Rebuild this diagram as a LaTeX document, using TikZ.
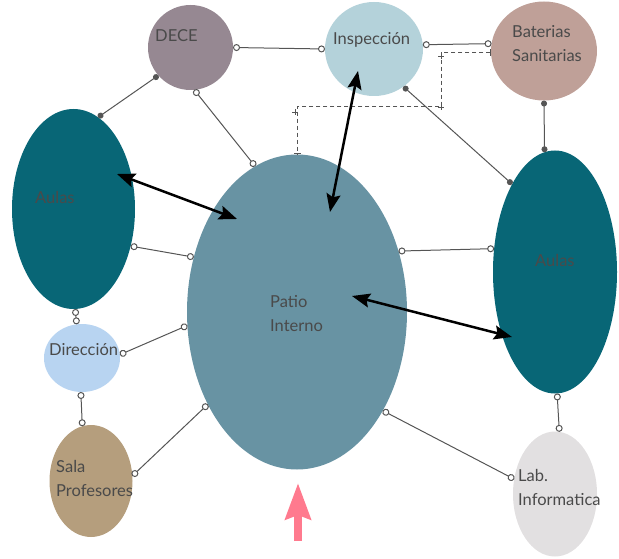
\documentclass[tikz,border=0pt]{standalone}
\usepackage{fontspec}
\setmainfont{Lato}
\usetikzlibrary{arrows.meta,shapes.geometric}

\definecolor{cDece}{HTML}{968892}
\definecolor{cInsp}{HTML}{B4D2DA}
\definecolor{cBat}{HTML}{BFA098}
\definecolor{cAulas}{HTML}{086676}
\definecolor{cPatio}{HTML}{6893A3}
\definecolor{cDir}{HTML}{B8D4F1}
\definecolor{cSala}{HTML}{B59E7D}
\definecolor{cLab}{HTML}{E2E0E1}
\definecolor{cLine}{HTML}{555555}
\definecolor{cTxt}{HTML}{4A4A4A}
\definecolor{cIn}{HTML}{FF7A8E}

\tikzset{
  zone/.style={ellipse, inner sep=0pt, outer sep=0pt},
  txt/.style={anchor=west, inner sep=0pt, align=left, text=cTxt,
    font=\fontsize{16.5}{24}\selectfont},
  link/.style={draw=cLine, line width=1pt,
    {Circle[length=7pt,fill=white]}-{Circle[length=7pt,fill=white]}},
  dotlink/.style={draw=cLine, line width=1pt,
    {Circle[length=6pt]}-{Circle[length=6pt]}},
  dashlink/.style={draw=cLine, line width=1pt, dash pattern=on 4pt off 3pt,
    {Bar[width=7pt]}-{Bar[width=7pt]}},
  flow/.style={line width=2.5pt,
    {Stealth[length=18pt,width=14pt,inset=3pt]}-{Stealth[length=18pt,width=14pt,inset=3pt]}}
}

\begin{document}
\begin{tikzpicture}[x=1pt,y=-1pt]
\useasboundingbox (0,0) rectangle (619,559);

% areas
\node (dece) at (190.5,47.5) [zone, fill=cDece, minimum width=85pt, minimum height=85pt] {};
\node (insp) at (374,49) [zone, fill=cInsp, minimum width=98pt, minimum height=94pt] {};
\node (bat) at (544,51) [zone, fill=cBat, minimum width=106pt, minimum height=99pt] {};
\node (aulasL) at (73.5,209) [zone, fill=cAulas, minimum width=123pt, minimum height=200pt] {};
\node (patio) at (297,312) [zone, fill=cPatio, minimum width=220pt, minimum height=315pt] {};
\node (aulasR) at (555,272) [zone, fill=cAulas, minimum width=124pt, minimum height=243pt] {};
\node (dir) at (82,358) [zone, fill=cDir, minimum width=76pt, minimum height=68pt] {};
\node (sala) at (91,481) [zone, fill=cSala, minimum width=83pt, minimum height=112pt] {};
\node (lab) at (555,494) [zone, fill=cLab, minimum width=84pt, minimum height=125pt] {};

% labels
\node (t-dece) at (155,36) [txt] {DECE};
\node (t-insp) at (333,40) [txt] {Inspección};
\node (t-bat) at (512,44) [txt] {Baterias\\Sanitarias};
\node (t-aulasL) at (35,197) [txt] {Aulas};
\node (t-patio) at (270,314) [txt] {Patio\\Interno};
\node (t-aulasR) at (535,260) [txt] {Aulas};
\node (t-dir) at (49,350) [txt] {Dirección};
\node (t-sala) at (56,478) [txt] {Sala\\Profesores};
\node (t-lab) at (518,487) [txt] {Lab.\\Informatica};

% links between areas
\draw[link] (dece.0) -- (insp.180);
\draw[link] (insp.5.5) -- (bat.172.5);
\draw[link] (dece.275) -- (patio.106);
\draw[link] (aulasL.-33.7) -- (patio.152);
\draw[link] (aulasL.271) -- (dir.99);
\draw[link] (dir.5.6) -- (patio.187.4);
\draw[link] (dir.268.5) -- (sala.99.5);
\draw[link] (patio.226.5) -- (sala.7);
\draw[link] (patio.31.6) -- (aulasR.159.7);
\draw[link] (patio.311) -- (lab.160.5);
\draw[link] (aulasR.271.8) -- (lab.86.5);

\draw[dotlink] (dece.221) -- (aulasL.75);
\draw[dotlink] (insp.-52.6) -- (aulasR.116.3);
\draw[dotlink] (bat.270) -- (aulasR.95);

% dashed route
\coordinate (k1) at (441,107);
\draw[dashlink] (bat.182) -| (k1) -| (patio.north);
\foreach \x/\y in {441/56, 441/107, 295/112}
  \draw[cLine, line width=0.8pt] (\x-3,\y) -- (\x+3,\y) (\x,\y-3) -- (\x,\y+3);

% main flows
\coordinate (f1a) at (117,174);
\coordinate (f1b) at (237,219);
\coordinate (f2a) at (358,71);
\coordinate (f2b) at (330,212);
\coordinate (f3a) at (352,296);
\coordinate (f3b) at (512,337);
\draw[flow] (f1a) -- (f1b);
\draw[flow] (f2a) -- (f2b);
\draw[flow] (f3a) -- (f3b);

% entrance
\coordinate (in0) at (298,541);
\coordinate (in1) at (298,483);
\draw[cIn, line width=8pt, -{Stealth[length=36pt,width=25pt,inset=4pt]}] (in0) -- (in1);
\end{tikzpicture}
\end{document}
